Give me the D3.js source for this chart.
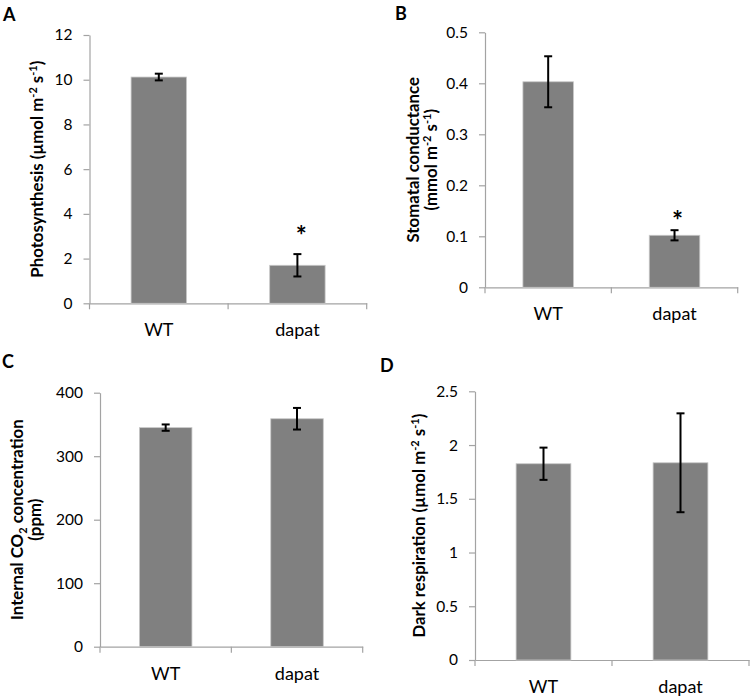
<!DOCTYPE html>
<html>
<head>
<meta charset="utf-8">
<title>gas exchange</title>
<script src="https://cdn.jsdelivr.net/npm/d3@7/dist/d3.min.js"></script>
<style>
  body { margin: 0; background: #ffffff; }
</style>
</head>
<body>
<svg width="750" height="699" id="mainsvg" style="display:block"></svg>
<script>
// data
const groups = ['WT', 'dapat'];

const photoMean = [10.12, 1.70];
const photoErr = [0.15, 0.50];
const photoTicks = [0, 2, 4, 6, 8, 10, 12];

const condMean = [0.403, 0.102];
const condErr = [0.050, 0.010];
const condTicks = [0, 0.1, 0.2, 0.3, 0.4, 0.5];

const ciMean = [345, 359];
const ciErr = [5, 17];
const ciTicks = [0, 100, 200, 300, 400];

const respMean = [1.826, 1.835];
const respErr = [0.150, 0.460];
const respTicks = [0, 0.5, 1, 1.5, 2, 2.5];

// significance markers (per group)
const photoSig = [false, true];
const condSig = [false, true];
const ciSig = [false, false];
const respSig = [false, false];

const svg = d3.select('#mainsvg');
const fontFam = 'Lato, "Open Sans", sans-serif';
const axisColor = '#a3a3a3';
const barColor = '#808080';

// layout of each panel
const panels = [
  {letter: 'A', mean: photoMean, err: photoErr, ticks: photoTicks, sig: photoSig,
   x0: 89.5, x1: 366.7, yTop: 35, yBot: 303.3, letterX: 3, letterY: 20.5, starGap: 23, starDx: 4,
   title: [[{t: 'Photosynthesis (µmol m'}, {t: '-2', sup: true}, {t: ' s'}, {t: '-1', sup: true}, {t: ')'}]],
   titleX: [43]},
  {letter: 'B', mean: condMean, err: condErr, ticks: condTicks, sig: condSig,
   x0: 485, x1: 737.7, yTop: 32.3, yBot: 287.3, letterX: 395, letterY: 20, starGap: 14, starDx: 3,
   title: [[{t: 'Stomatal conductance'}],
           [{t: '(mmol m'}, {t: '-2', sup: true}, {t: ' s'}, {t: '-1', sup: true}, {t: ')'}]],
   titleX: [418.5, 436.5]},
  {letter: 'C', mean: ciMean, err: ciErr, ticks: ciTicks, sig: ciSig,
   x0: 100, x1: 362.7, yTop: 392.7, yBot: 646.7, letterX: 2, letterY: 368, starGap: 14, starDx: 0,
   title: [[{t: 'Internal CO'}, {t: '2', sub: true}, {t: ' concentration'}],
           [{t: '(ppm)'}]],
   titleX: [23, 41]},
  {letter: 'D', mean: respMean, err: respErr, ticks: respTicks, sig: respSig,
   x0: 475, x1: 749, yTop: 391.3, yBot: 660, letterX: 380, letterY: 372, starGap: 14, starDx: 0,
   title: [[{t: 'Dark respiration (µmol m'}, {t: '-2', sup: true}, {t: ' s'}, {t: '-1', sup: true}, {t: ')'}]],
   titleX: [425]}
];

const drawPanel = function(p) {
  const g = svg.append('g').attr('class', 'panel');
  const data = groups.map((k, i) => ({key: k, mean: p.mean[i], err: p.err[i], sig: p.sig[i]}));

  const yScale = d3.scaleLinear().domain([0, d3.max(p.ticks)]).range([p.yBot, p.yTop]);
  const xScale = d3.scaleBand().domain(groups).range([p.x0, p.x1])
    .paddingInner(0.6).paddingOuter(0.3);

  // y axis
  const yAxisG = g.append('g').attr('transform', `translate(${p.x0},0)`)
    .call(d3.axisLeft(yScale).tickValues(p.ticks).tickFormat(d => d)
      .tickSize(6).tickSizeOuter(0).tickPadding(11));
  yAxisG.select('.domain').attr('stroke', axisColor).attr('stroke-width', 1.2);
  yAxisG.selectAll('.tick line').attr('stroke', axisColor).attr('stroke-width', 1.2);
  yAxisG.selectAll('.tick text').attr('fill', '#000').style('font-family', fontFam).style('font-size', '15.5px');

  // x axis
  const xAxisG = g.append('g').attr('transform', `translate(0,${p.yBot})`)
    .call(d3.axisBottom(xScale).tickSize(0).tickSizeOuter(0));
  xAxisG.select('.domain').attr('stroke', axisColor).attr('stroke-width', 1.2);
  xAxisG.selectAll('.tick text').attr('y', 33).attr('dy', 0).attr('fill', '#000')
    .style('font-family', fontFam).style('font-size', '18px');
  // category boundary ticks
  const r = xScale.range();
  const bx = i => r[0] + i * (r[1] - r[0]) / groups.length;
  xAxisG.selectAll('.bound').data(d3.range(groups.length + 1)).join('line')
    .attr('class', 'bound')
    .attr('x1', bx).attr('x2', bx)
    .attr('y1', 0).attr('y2', 6)
    .attr('stroke', axisColor).attr('stroke-width', 1.2);

  // bars
  g.selectAll('.bar').data(data).join('rect')
    .attr('class', 'bar')
    .attr('x', d => xScale(d.key))
    .attr('width', xScale.bandwidth())
    .attr('y', d => yScale(d.mean))
    .attr('height', d => yScale(0) - yScale(d.mean))
    .attr('fill', barColor)
    .attr('stroke', '#c8c8c8').attr('stroke-width', 0.8);

  // error bars
  const cx = d => xScale(d.key) + xScale.bandwidth() / 2;
  const eb = g.selectAll('.err').data(data).join('g').attr('class', 'err')
    .attr('stroke', '#000').attr('stroke-width', 2);
  eb.append('line').attr('x1', cx).attr('x2', cx)
    .attr('y1', d => yScale(d.mean + d.err)).attr('y2', d => yScale(d.mean - d.err));
  eb.append('line').attr('x1', d => cx(d) - 4).attr('x2', d => cx(d) + 4)
    .attr('y1', d => yScale(d.mean + d.err)).attr('y2', d => yScale(d.mean + d.err));
  eb.append('line').attr('x1', d => cx(d) - 4).attr('x2', d => cx(d) + 4)
    .attr('y1', d => yScale(d.mean - d.err)).attr('y2', d => yScale(d.mean - d.err));

  // asterisks
  g.selectAll('.star').data(data.filter(d => d.sig)).join('text')
    .attr('class', 'star')
    .attr('x', d => cx(d) + p.starDx)
    .attr('y', d => yScale(d.mean + d.err) - p.starGap)
    .attr('dy', '0.55em')
    .attr('text-anchor', 'middle')
    .style('font-family', fontFam).style('font-weight', 'bold').style('font-size', '26px')
    .text('*');

  // y axis title (superscript / subscript via dy shifts)
  const cy = (p.yTop + p.yBot) / 2;
  p.title.forEach((line, li) => {
    const t = g.append('text')
      .attr('transform', `translate(${p.titleX[li]},${cy}) rotate(-90)`)
      .attr('text-anchor', 'middle')
      .style('font-family', fontFam).style('font-weight', 'bold').style('font-size', '16.8px');
    let cur = 0;
    line.forEach(seg => {
      const off = seg.sup ? -6 : seg.sub ? 4 : 0;
      const ts = t.append('tspan').attr('dy', off - cur).text(seg.t);
      if (seg.sup || seg.sub) ts.style('font-size', '11px');
      cur = off;
    });
  });

  // panel letter
  g.append('text').attr('x', p.letterX).attr('y', p.letterY)
    .style('font-family', fontFam).style('font-weight', 'bold').style('font-size', '18px')
    .text(p.letter);
};

panels.forEach(drawPanel);
</script>
</body>
</html>
